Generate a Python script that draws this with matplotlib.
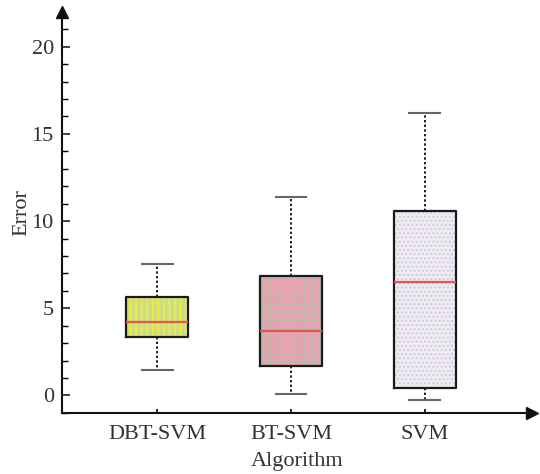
import matplotlib
matplotlib.use("Agg")
import matplotlib.pyplot as plt

plt.rcParams['font.family'] = ['Liberation Serif', 'DejaVu Serif']
plt.rcParams['hatch.linewidth'] = 0.9

# Box statistics per algorithm
algorithms = ["DBT-SVM", "BT-SVM", "SVM"]
whisker_low = [1.48, 0.10, -0.28]
q1 = [3.37, 1.67, 0.44]
median = [4.22, 3.72, 6.51]
q3 = [5.62, 6.86, 10.60]
whisker_high = [7.55, 11.40, 16.17]

face_colors = ["#d0dc80", "#eaa2b0", "#efebf3"]
hatch_colors = ["#f0f43c", "#b2bca8", "#cdc6d8"]
hatches = ["|||", "++", "...."]

fig = plt.figure(figsize=(5.4, 4.74), dpi=100)
ax = fig.add_axes([0.115, 0.129, 0.87, 0.846])

stats = []
for i, name in enumerate(algorithms):
    stats.append(dict(label=name, whislo=whisker_low[i], q1=q1[i], med=median[i],
                      q3=q3[i], whishi=whisker_high[i], fliers=[]))

positions = [1, 2, 3]
width = 0.46

# filled, hatched boxes underneath
fill = ax.bxp(stats, positions=positions, widths=width, patch_artist=True,
              showfliers=False, showcaps=False,
              whiskerprops=dict(linewidth=0), medianprops=dict(linewidth=0))
for patch, fc, hc, h in zip(fill['boxes'], face_colors, hatch_colors, hatches):
    patch.set_facecolor(fc)
    patch.set_edgecolor(hc)
    patch.set_hatch(h)
    patch.set_linewidth(0)

# outlines, whiskers, caps and medians on top
ax.bxp(stats, positions=positions, widths=width, patch_artist=False,
       showfliers=False,
       boxprops=dict(color="#1a1a1a", linewidth=1.6),
       whiskerprops=dict(color="#1a1a1a", linewidth=1.4, linestyle=(0, (1.2, 1.2))),
       capprops=dict(color="#666666", linewidth=1.5),
       capwidths=width * 0.5,
       medianprops=dict(color="#e0574f", linewidth=1.6))

ax.set_xlim(0.29, 3.8)
ax.set_ylim(-1, 22)
ax.set_xticks(positions)
ax.set_xticklabels(algorithms, fontsize=16)
ax.set_yticks([0, 5, 10, 15, 20])
ax.set_yticks(range(-1, 22), minor=True)
ax.tick_params(axis='y', which='major', direction='in', length=6, width=1.2,
               labelsize=16, colors="#222222", pad=6)
ax.tick_params(axis='y', which='minor', direction='in', length=4, width=1.0)
ax.tick_params(axis='x', which='major', direction='in', length=3, width=1.2,
               labelsize=16, pad=9)
for lbl in ax.get_yticklabels() + ax.get_xticklabels():
    lbl.set_color("#333333")

for s in ("top", "right"):
    ax.spines[s].set_visible(False)
for s in ("left", "bottom"):
    ax.spines[s].set_linewidth(1.5)
    ax.spines[s].set_color("#111111")

# arrowheads on the axes
ax.plot(0, 1, marker="^", color="#111111", markersize=8, transform=ax.transAxes, clip_on=False)
ax.plot(1, 0, marker=">", color="#111111", markersize=8, transform=ax.transAxes, clip_on=False)

ax.set_xlabel("Algorithm", fontsize=16, color="#333333", labelpad=5.5)
ax.set_ylabel("Error", fontsize=16, color="#333333")
ax.yaxis.set_label_coords(-0.066, 0.5)

fig.savefig("out.png", dpi=100)
